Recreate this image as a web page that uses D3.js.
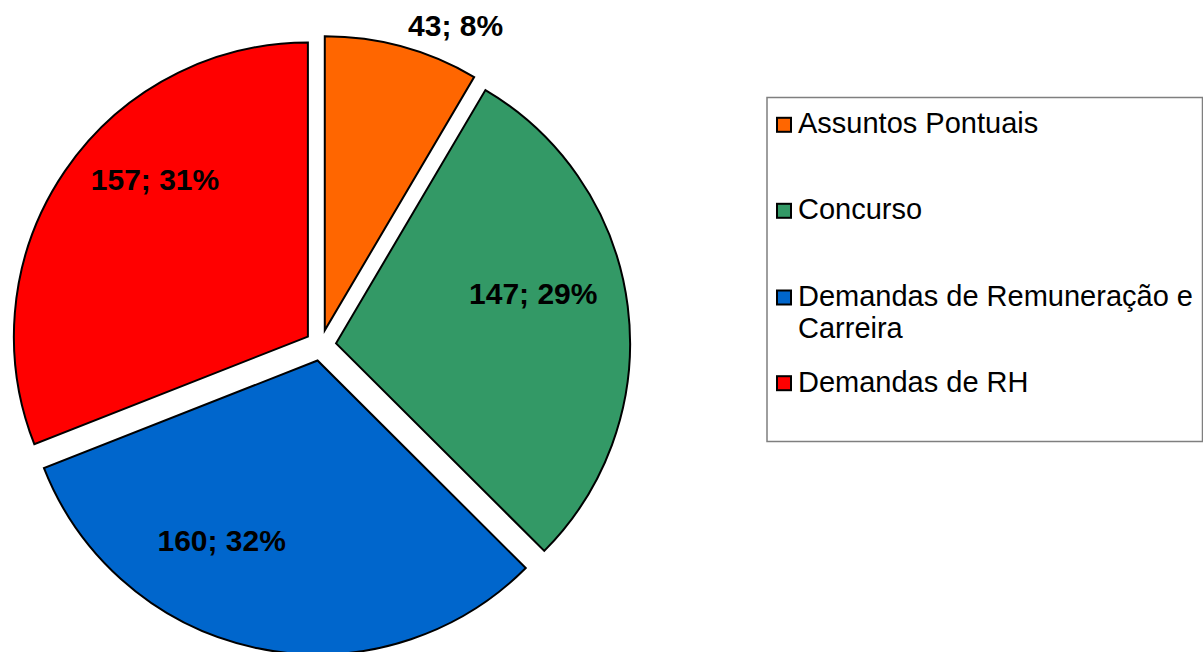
<!DOCTYPE html>
<html>
<head>
<meta charset="utf-8">
<script src="https://cdn.jsdelivr.net/npm/d3@7"></script>
<style>
  html, body { margin: 0; padding: 0; background: #fff; }
  svg { display: block; }
</style>
</head>
<body>
<svg id="chart" width="1203" height="652"></svg>
<script>
// ---- data ----
const categories = ["Assuntos Pontuais", "Concurso", "Demandas de Remuneração e Carreira", "Demandas de RH"];
const values = [43, 147, 160, 157];
const percents = ["8%", "29%", "32%", "31%"];
const legendLines = [["Assuntos Pontuais"], ["Concurso"], ["Demandas de Remuneração e", "Carreira"], ["Demandas de RH"]];
const colors = ["#FF6600", "#339966", "#0066CC", "#FF0000"];

// ---- layout ----
const cx = 320.7, cy = 345.3, R = 294, explode = 15.5;
// label placement: [distance from slice apex, angle in degrees clockwise from top]
const labelPlace = [[332, 23.2], [203.5, 75.7], [203.6, 208.1], [219.7, 315.9]];

const svg = d3.select("#chart");
const pie = d3.pie().sort(null).value(d => d)(values);
const arc = d3.arc().innerRadius(0).outerRadius(R);

const g = svg.append("g").attr("transform", `translate(${cx},${cy})`);

pie.forEach((p, i) => {
  const mid = (p.startAngle + p.endAngle) / 2;
  const ox = Math.sin(mid) * explode, oy = -Math.cos(mid) * explode;
  const sg = g.append("g").attr("transform", `translate(${ox},${oy})`);
  sg.append("path")
    .attr("d", arc(p))
    .attr("fill", colors[i])
    .attr("stroke", "#000")
    .attr("stroke-width", 2)
    .attr("stroke-linejoin", "miter");
  const [dist, angDeg] = labelPlace[i];
  const a = angDeg * Math.PI / 180;
  sg.append("text")
    .attr("x", Math.sin(a) * dist)
    .attr("y", -Math.cos(a) * dist)
    .attr("dy", "0.36em")
    .attr("text-anchor", "middle")
    .attr("font-family", "'Liberation Sans', Arial, sans-serif")
    .attr("font-weight", "bold")
    .attr("font-size", 30)
    .attr("fill", "#000")
    .text(`${values[i]}; ${percents[i]}`);
});

// ---- legend ----
const legend = svg.append("g");
legend.append("rect")
  .attr("x", 767).attr("y", 97.5)
  .attr("width", 435.5).attr("height", 344)
  .attr("fill", "#fff")
  .attr("stroke", "#7f7f7f")
  .attr("stroke-width", 1.5);

const baselines = [133.3, 219.3, 306, 391.7];
const lineH = 32.3;
categories.forEach((c, i) => {
  const by = baselines[i];
  legend.append("rect")
    .attr("x", 777).attr("y", by - 15.5)
    .attr("width", 14).attr("height", 14)
    .attr("fill", colors[i])
    .attr("stroke", "#000")
    .attr("stroke-width", 2);
  const t = legend.append("text")
    .attr("x", 798).attr("y", by)
    .attr("font-family", "'Liberation Sans', Arial, sans-serif")
    .attr("font-size", 29)
    .attr("fill", "#000");
  legendLines[i].forEach((ln, j) => {
    t.append("tspan").attr("x", 798).attr("y", by + j * lineH).text(ln);
  });
});
</script>
</body>
</html>
